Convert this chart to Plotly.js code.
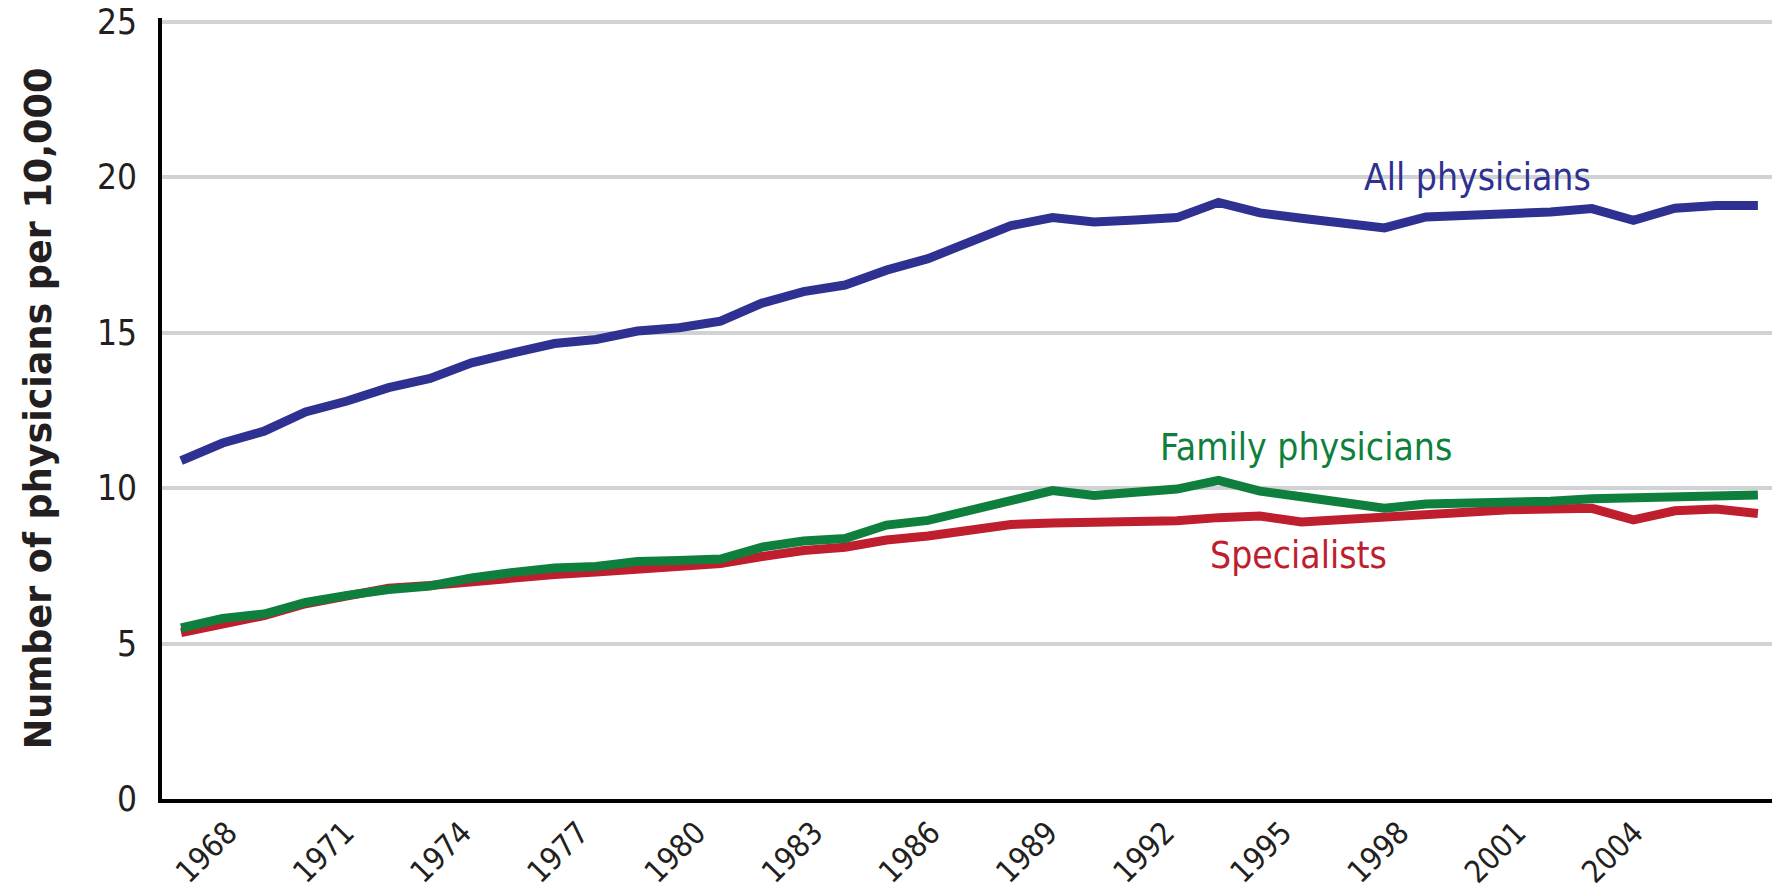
<!DOCTYPE html>
<html>
<head>
<meta charset="utf-8">
<script src="https://cdn.plot.ly/plotly-3.0.1.min.js"></script>
<style>
  html, body { margin: 0; padding: 0; background: #ffffff; }
  #chart { width: 1775px; height: 893px; }
</style>
</head>
<body>
<div id="chart"></div>
<script>
// ---- data ----
const years = [1967, 1968, 1969, 1970, 1971, 1972, 1973, 1974, 1975, 1976,
               1977, 1978, 1979, 1980, 1981, 1982, 1983, 1984, 1985, 1986,
               1987, 1988, 1989, 1990, 1991, 1992, 1993, 1994, 1995, 1996,
               1997, 1998, 1999, 2000, 2001, 2002, 2003, 2004, 2005];

const allPhysicians = [10.88, 11.45, 11.83, 12.45, 12.80, 13.23, 13.53, 14.03, 14.35, 14.65,
                       14.78, 15.05, 15.16, 15.37, 15.95, 16.32, 16.53, 17.01, 17.38, 17.91,
                       18.44, 18.70, 18.56, 18.62, 18.70, 19.19, 18.85, 18.68, 18.51, 18.37,
                       18.72, 18.76, 18.87, 18.88, 18.99, 18.61, 19.00, 19.09, 19.09];

const familyPhysicians = [5.50, 5.81, 5.95, 6.32, 6.55, 6.74, 6.85, 7.11, 7.29, 7.43,
                          7.48, 7.64, 7.67, 7.72, 8.10, 8.30, 8.38, 8.81, 8.96, 9.30,
                          9.65, 9.92, 9.76, 9.89, 9.97, 10.25, 9.90, 9.72, 9.50, 9.35,
                          9.49, 9.50, 9.53, 9.58, 9.66, 9.68, 9.71, 9.75, 9.78];

const specialists = [5.35, 5.62, 5.90, 6.28, 6.55, 6.78, 6.87, 7.00, 7.12, 7.22,
                     7.30, 7.38, 7.45, 7.57, 7.80, 7.99, 8.10, 8.33, 8.46, 8.65,
                     8.83, 8.88, 8.88, 8.91, 8.95, 9.05, 9.10, 8.91, 9.00, 9.07,
                     9.17, 9.25, 9.30, 9.33, 9.35, 8.98, 9.27, 9.33, 9.18];

const tickYears = [1968, 1971, 1974, 1977, 1980, 1983, 1986, 1989, 1992, 1995, 1998, 2001, 2004];
const tickLabels = ["1968", "1971", "1974", "1977", "1980", "1983", "1986", "1989", "1992", "1995", "1998", "2001", "2004"];
const yTicks = [0, 5, 10, 15, 20, 25];

const seriesNames = ["All physicians", "Family physicians", "Specialists"];

// ---- styles ----
const BLUE = "#2e3192";
const GREEN = "#0f7f3e";
const RED = "#be1e2d";
const cond = "'DejaVu Sans Condensed', 'Liberation Sans Narrow', sans-serif";

const traces = [
  { x: years, y: allPhysicians, name: seriesNames[0], type: "scatter", mode: "lines",
    line: { color: BLUE, width: 9 }, xaxis: "x", yaxis: "y" },
  { x: years, y: specialists, name: seriesNames[2], type: "scatter", mode: "lines",
    line: { color: RED, width: 9 }, xaxis: "x", yaxis: "y" },
  { x: years, y: familyPhysicians, name: seriesNames[1], type: "scatter", mode: "lines",
    line: { color: GREEN, width: 9 }, xaxis: "x", yaxis: "y" },
  // empty helper trace so that the labelled year axis is drawn (draws no mark)
  { x: tickYears, y: tickYears.map(() => null), type: "scatter", mode: "markers",
    marker: { opacity: 0 }, hoverinfo: "skip", showlegend: false, xaxis: "x2", yaxis: "y" }
];

const layout = {
  width: 1775,
  height: 893,
  paper_bgcolor: "#ffffff",
  plot_bgcolor: "#ffffff",
  showlegend: false,
  margin: { l: 162, r: 3, t: 18, b: 94, autoexpand: false },
  xaxis: {
    range: [1966.54, 2005.34],
    showgrid: false,
    zeroline: false,
    showline: true,
    linecolor: "#000000",
    linewidth: 4,
    showticklabels: false,
    ticks: ""
  },
  xaxis2: {
    overlaying: "x",
    anchor: "y",
    side: "bottom",
    range: [1966.31, 2007.53],
    tickmode: "array",
    tickvals: tickYears,
    ticktext: tickLabels,
    tickangle: -45,
    showgrid: false,
    zeroline: false,
    showline: false,
    ticks: "outside",
    ticklen: 2,
    tickcolor: "rgba(0,0,0,0)",
    ticklabeloverflow: "allow",
    tickfont: { family: cond, size: 31, color: "#231f20" }
  },
  yaxis: {
    range: [0, 25.12],
    tickmode: "array",
    tickvals: yTicks,
    showgrid: true,
    gridcolor: "#d1d2d4",
    gridwidth: 4,
    zeroline: false,
    showline: true,
    linecolor: "#000000",
    linewidth: 4,
    ticks: "outside",
    ticklen: 14,
    tickcolor: "rgba(0,0,0,0)",
    ticklabeloverflow: "allow",
    tickfont: { family: cond, size: 35, color: "#231f20" },
    title: {
      text: "Number of physicians per 10,000",
      font: { family: "'DejaVu Sans', Verdana, sans-serif", size: 36.5, color: "#231f20", weight: "bold" },
      standoff: 35
    }
  },
  annotations: [
    { text: seriesNames[0], xref: "x", yref: "y", x: 1998.25, y: 20.0,
      showarrow: false, xanchor: "center", yanchor: "middle",
      font: { family: cond, size: 37, color: BLUE } },
    { text: seriesNames[1], xref: "x", yref: "y", x: 1994.11, y: 11.31,
      showarrow: false, xanchor: "center", yanchor: "middle",
      font: { family: cond, size: 37, color: GREEN } },
    { text: seriesNames[2], xref: "x", yref: "y", x: 1993.92, y: 7.82,
      showarrow: false, xanchor: "center", yanchor: "middle",
      font: { family: cond, size: 37, color: RED } }
  ]
};

Plotly.newPlot("chart", traces, layout, { staticPlot: true, displayModeBar: false });
</script>
</body>
</html>
